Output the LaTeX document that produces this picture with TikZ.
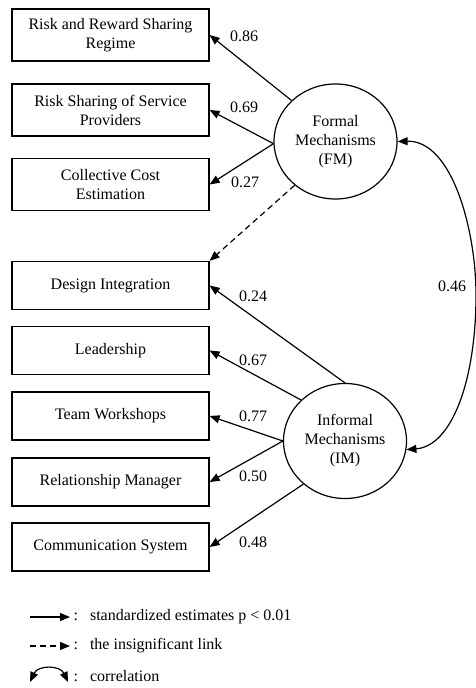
\documentclass[tikz,border=0pt]{standalone}
\usepackage{fontspec}
\setmainfont{Liberation Serif}
\usetikzlibrary{arrows.meta,shapes.geometric}

\begin{document}
\begin{tikzpicture}[x=1pt, y=-1pt,
    %Option for the arrows
    >={Triangle[length=10pt,width=8pt]}, %
    line width=1.2pt,%
    every node/.style={font=\fontsize{16}{19}\selectfont},
    item/.style={draw, rectangle, minimum width=197pt, minimum height=#1, align=center, inner sep=2pt},
    item/.default=48pt,
    factor/.style={draw, ellipse, minimum width=123pt, minimum height=115pt, align=center, inner sep=0pt},
    load/.style={->},
    weak/.style={->, dash pattern=on 6pt off 4pt},
    corr/.style={<->},
    coef/.style={inner sep=1pt},
]
    \useasboundingbox (0,0) rectangle (475,688);

    % Observed variables
    \node[item=52pt] (rrs)  at (110.5, 35)  {Risk and Reward Sharing\\Regime};
    \node[item=52pt] (rssp) at (110.5,110)  {Risk Sharing of Service\\Providers};
    \node[item=52pt] (cce)  at (110.5,184.5){Collective Cost\\Estimation};
    \node[item] (di)   at (110.5,285.5) {Design Integration};
    \node[item] (lead) at (110.5,350.5) {Leadership};
    \node[item] (tw)   at (110.5,416)   {Team Workshops};
    \node[item] (rm)   at (110.5,482)   {Relationship Manager};
    \node[item] (cs)   at (110.5,547)   {Communication System};

    % Latent factors
    \node[factor] (fm) at (335.5,141.5) {Formal\\Mechanisms\\(FM)};
    \node[factor] (im) at (345,441)     {Informal\\Mechanisms\\(IM)};

    % Loadings of FM
    \draw[load] (fm.137) -- (rrs.east);
    \draw[load] (fm.182) -- (rssp.east);
    \draw[load] (fm.182) -- (cce.east);
    \draw[weak] (fm.227) -- (di.north east);

    \node[coef] (c86) at (244, 36)  {0.86};
    \node[coef] (c69) at (244,107)  {0.69};
    \node[coef] (c27) at (245,182)  {0.27};

    % Loadings of IM
    \draw[load] (im.90)  -- (di.east);
    \draw[load] (im.137) -- (lead.east);
    \draw[load] (im.180) -- (tw.east);
    \draw[load] (im.180) -- (rm.east);
    \draw[load] (im.226) -- (cs.east);

    \node[coef] (c24) at (253,296) {0.24};
    \node[coef] (c67) at (253,360) {0.67};
    \node[coef] (c77) at (253,416) {0.77};
    \node[coef] (c50) at (253,476) {0.50};
    \node[coef] (c48) at (253,542) {0.48};

    % Correlation between the factors
    \draw[corr] (fm.east) .. controls (452,140) and (476,230) .. (476,295)
                          .. controls (476,380) and (452,446) .. (im.-8);
    \node[coef] (c46) at (452,286) {0.46};

    % Legend
    \coordinate (ka) at (30,617);  \coordinate (kb) at (70,617);
    \coordinate (da) at (30,646);  \coordinate (db) at (70,646);
    \coordinate (ra) at (30,682);  \coordinate (rb) at (68,682);
    \draw[load] (ka) -- (kb);
    \draw[weak] (da) -- (db);
    \draw[corr] (ra) .. controls (38,665) and (60,665) .. (rb);
    \node[anchor=west, inner sep=0pt] (kt) at (73,617) {:\hspace{12pt}standardized estimates p < 0.01};
    \node[anchor=west, inner sep=0pt] (dt) at (73,646) {:\hspace{12pt}the insignificant link};
    \node[anchor=west, inner sep=0pt] (rt) at (73,676) {:\hspace{12pt}correlation};

\end{tikzpicture}
\end{document}
